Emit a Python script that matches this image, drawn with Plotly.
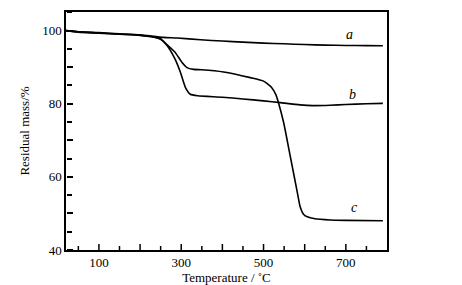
import plotly.graph_objects as go

temp_a = [20, 50, 100, 150, 200, 257, 290, 347, 400, 450, 500, 550, 600, 650, 700, 750, 790]
mass_a = [100.0, 99.7, 99.45, 99.15, 98.85, 98.15, 98.0, 97.5, 97.15, 96.85, 96.6, 96.4, 96.2, 96.05, 95.95, 95.9, 95.85]

temp_b = [20, 50, 100, 150, 200, 230, 250, 265, 285, 298, 310, 322, 340, 400, 450, 500, 541, 589, 620, 662, 700, 750, 790]
mass_b = [100.0, 99.65, 99.35, 99.05, 98.75, 98.35, 97.6, 96.0, 92.2, 88.6, 84.5, 82.6, 82.2, 81.8, 81.3, 80.8, 80.3, 79.7, 79.5, 79.6, 79.8, 80.0, 80.1]

temp_c = [20, 50, 100, 150, 200, 230, 250, 265, 285, 302, 314, 330, 350, 403, 468, 500, 520, 530, 537, 549, 565, 581, 589, 597, 608, 622, 662, 700, 790]
mass_c = [100.0, 99.6, 99.3, 99.0, 98.7, 98.3, 97.8, 96.2, 94.1, 91.3, 89.9, 89.4, 89.3, 88.7, 87.15, 86.2, 84.4, 82.5, 80.0, 74.8, 65.6, 56.4, 51.8, 49.8, 49.0, 48.6, 48.2, 48.1, 48.0]

labels = ["a", "b", "c"]
label_x = [708, 716, 722]
label_y = [98.9, 82.4, 51.7]

x_range = [20, 800]
y_range = [40, 105.1]
x_tickvals = [100, 300, 500, 700]
y_tickvals = [40, 60, 80, 100]
x_marks = [100, 200, 300, 400, 500, 600, 700]
x_minor_marks = [50, 150, 250, 350, 450, 550, 650, 750]
y_marks = [40, 50, 60, 70, 80, 90, 100]

FAM = "Times New Roman, Liberation Serif, serif"

fig = go.Figure()
for t, m in [(temp_a, mass_a), (temp_b, mass_b), (temp_c, mass_c)]:
    fig.add_trace(go.Scatter(x=t, y=m, mode="lines",
                             line=dict(color="black", width=1.6, shape="spline", smoothing=0.5),
                             showlegend=False, hoverinfo="skip"))
# carrier trace for the y tick-mark axis
fig.add_trace(go.Scatter(x=[None], y=[None], xaxis="x", yaxis="y2",
                         showlegend=False, hoverinfo="skip"))

for lab, lx, ly in zip(labels, label_x, label_y):
    fig.add_annotation(x=lx, y=ly, text="<i>" + lab + "</i>", showarrow=False,
                       font=dict(family=FAM, size=14, color="black"))

# inward x tick marks (drawn upward from the bottom axis, length in pixels)
for vals, length in [(x_marks, 6), (x_minor_marks, 4)]:
    for v in vals:
        fig.add_shape(type="line", xref="x", yref="y domain", ysizemode="pixel", yanchor=0,
                      x0=v, x1=v, y0=0, y1=length, line=dict(color="black", width=1.5))

font = dict(family=FAM, size=13, color="black")
tickstyle = dict(tickcolor="black", tickwidth=1.5)
fig.update_layout(
    width=462, height=285,
    margin=dict(l=66, r=75, t=12, b=35, autoexpand=False),
    paper_bgcolor="white", plot_bgcolor="white",
    font=font,
    xaxis=dict(range=x_range, tickmode="array", tickvals=x_tickvals, ticks="",
               showline=True, linecolor="black", linewidth=1.5, mirror=True,
               showgrid=False, zeroline=False, automargin=False,
               title=dict(text="Temperature / ˚C", font=font, standoff=0)),
    yaxis=dict(range=y_range, tickmode="array", tickvals=y_tickvals, ticks="",
               showline=True, linecolor="black", linewidth=1.5, mirror=True,
               showgrid=False, zeroline=False, automargin=False,
               title=dict(text="Residual mass/%", font=font, standoff=10)),
    yaxis2=dict(range=y_range, overlaying="y", side="right", anchor="free", position=0,
                tickmode="array", tickvals=y_marks, ticks="outside", ticklen=6, **tickstyle,
                minor=dict(tickmode="linear", tick0=0, dtick=5, ticks="outside", ticklen=5, **tickstyle),
                showticklabels=False, showline=False, showgrid=False, zeroline=False, automargin=False),
)
fig.write_html("out.html", config={"displayModeBar": False},
               post_script="document.body.style.margin='0';")
